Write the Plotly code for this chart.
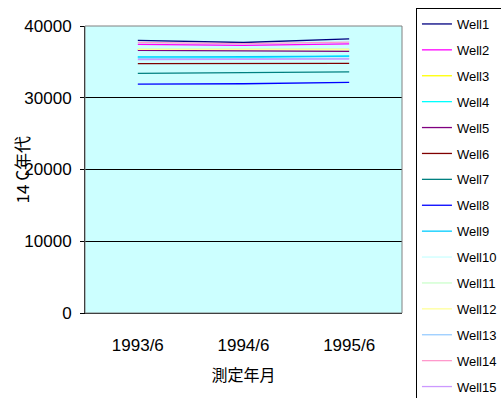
import plotly.graph_objects as go

# Measurement dates (category axis)
dates = ["1993/6", "1994/6", "1995/6"]

# 14C ages per well
well1 = [38000, 37700, 38200]
well2 = [37450, 37300, 37500]
well3 = [36700, 36650, 36700]
well4 = [35700, 35600, 35800]
well5 = [36600, 36500, 36450]
well6 = [34750, 34750, 34780]
well7 = [33400, 33450, 33600]
well8 = [31900, 31950, 32150]
well9 = [35650, 35700, 35800]
well10 = [36900, 36900, 36900]
well11 = [36800, 36800, 36850]
well12 = [36750, 36700, 36750]
well13 = [35500, 35500, 35500]
well14 = [37700, 37550, 37750]
well15 = [35300, 35300, 35400]

names = [f"Well{i}" for i in range(1, 16)]
series = [well1, well2, well3, well4, well5, well6, well7, well8,
          well9, well10, well11, well12, well13, well14, well15]
colors = ["#000080", "#FF00FF", "#FFFF00", "#00FFFF", "#800080",
          "#800000", "#008080", "#0000FF", "#00CCFF", "#CCFFFF",
          "#CCFFCC", "#FFFF99", "#99CCFF", "#FF99CC", "#CC99FF"]

font_main = "Liberation Sans Narrow, Liberation Sans, Arial, sans-serif"
font_cjk = "Noto Sans CJK JP, sans-serif"

fig = go.Figure()
for name, vals, col in zip(names, series, colors):
    fig.add_trace(go.Scatter(
        x=dates, y=vals, name=name, mode="lines",
        line=dict(color=col, width=1.3),
        legendgroup=name,
    ))

# grey frame around the plot area
fig.add_shape(type="rect", xref="paper", yref="paper",
              x0=0, y0=0, x1=1, y1=1,
              line=dict(color="#808080", width=1), layer="above")

# vertical axis title
fig.add_annotation(text="14 C年代", xref="paper", yref="paper",
                   x=-0.199, y=0.5, xanchor="center", yanchor="middle",
                   textangle=-90, showarrow=False,
                   font=dict(family=font_cjk, size=17, color="black"))

fig.update_layout(
    width=501, height=398,
    margin=dict(l=85, r=99, t=26, b=85, autoexpand=False),
    paper_bgcolor="white",
    plot_bgcolor="#CCFFFF",
    font=dict(family=font_main, size=17, color="black"),
    showlegend=True,
    legend=dict(
        x=1.044, y=1 - 8 / 398, xanchor="left", yanchor="top",
        yref="container",
        maxheight=395,
        bgcolor="white", bordercolor="black", borderwidth=1,
        font=dict(family=font_main, size=13, color="black"),
        traceorder="grouped", tracegroupgap=6,
        itemwidth=30,
    ),
    xaxis=dict(
        type="category",
        range=[-0.5, 2.5],
        showgrid=False,
        showline=True, linecolor="black", linewidth=1,
        ticks="", ticklabelstandoff=17,
        tickfont=dict(family=font_main, size=17),
        title=dict(text="測定年月", font=dict(family=font_cjk, size=16),
                   standoff=15),
        zeroline=False,
    ),
    yaxis=dict(
        range=[0, 40000],
        tickvals=[0, 10000, 20000, 30000, 40000],
        ticktext=["0", "10000", "20000", "30000", "40000"],
        showgrid=True, gridcolor="black", gridwidth=1,
        showline=True, linecolor="black", linewidth=1,
        ticks="outside", ticklen=4, tickcolor="black",
        ticklabelstandoff=5,
        tickfont=dict(family=font_main, size=17),
        zeroline=False,
    ),
)

fig.write_html("out.html")
